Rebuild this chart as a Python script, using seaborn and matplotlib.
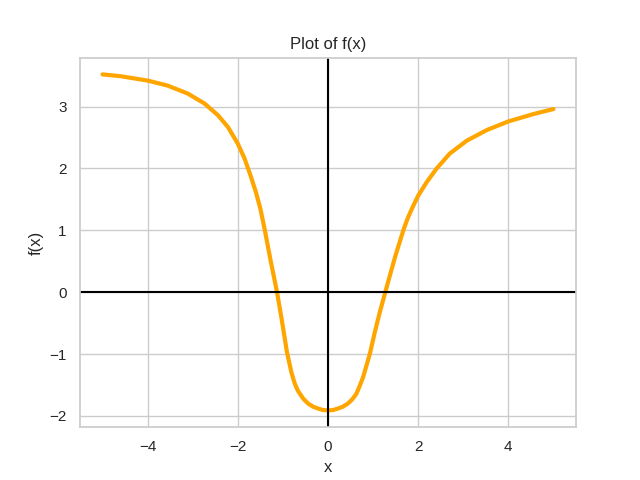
import matplotlib
matplotlib.use("Agg")
import matplotlib.pyplot as plt
import seaborn as sns
import pandas as pd

# values
x_vals = [-5.0, -4.59, -4.0, -3.56, -3.11, -2.74, -2.44, -2.22, -2.0, -1.85,
          -1.72, -1.6, -1.5, -1.4, -1.27, -1.13, -1.02, -0.91, -0.81, -0.74,
          -0.67, -0.55, -0.44, -0.33, -0.22, -0.11, 0.0, 0.11, 0.22, 0.33,
          0.44, 0.54, 0.63, 0.7, 0.78, 0.93, 1.04, 1.15, 1.27, 1.38,
          1.5, 1.67, 1.77, 1.88, 2.0, 2.19, 2.41, 2.7, 3.08, 3.52,
          4.0, 4.56, 5.0]
y_vals = [3.52, 3.49, 3.42, 3.34, 3.21, 3.05, 2.86, 2.67, 2.40, 2.16,
          1.89, 1.62, 1.35, 1.0, 0.5, 0.0, -0.47, -0.97, -1.3, -1.47,
          -1.59, -1.72, -1.80, -1.85, -1.88, -1.905, -1.91, -1.905, -1.88, -1.85,
          -1.80, -1.73, -1.64, -1.52, -1.37, -0.99, -0.64, -0.32, 0.0, 0.29,
          0.6, 1.0, 1.2, 1.38, 1.56, 1.78, 2.0, 2.24, 2.45, 2.62,
          2.76, 2.88, 2.96]

df = pd.DataFrame({"x": x_vals, "f(x)": y_vals})

sns.set_theme(style="whitegrid")
plt.rcParams["font.family"] = ["Liberation Sans", "DejaVu Sans"]

fig, ax = plt.subplots(figsize=(6.4, 4.8), dpi=100)
sns.lineplot(data=df, x="x", y="f(x)", ax=ax, color="orange", linewidth=3,
             solid_joinstyle="round", solid_capstyle="round")
ax.axhline(0, color="black", linewidth=1.5)
ax.axvline(0, color="black", linewidth=1.5)
ax.set_title("Plot of f(x)")
ax.set_xlabel("x")
ax.set_ylabel("f(x)")

plt.savefig("out.png")
